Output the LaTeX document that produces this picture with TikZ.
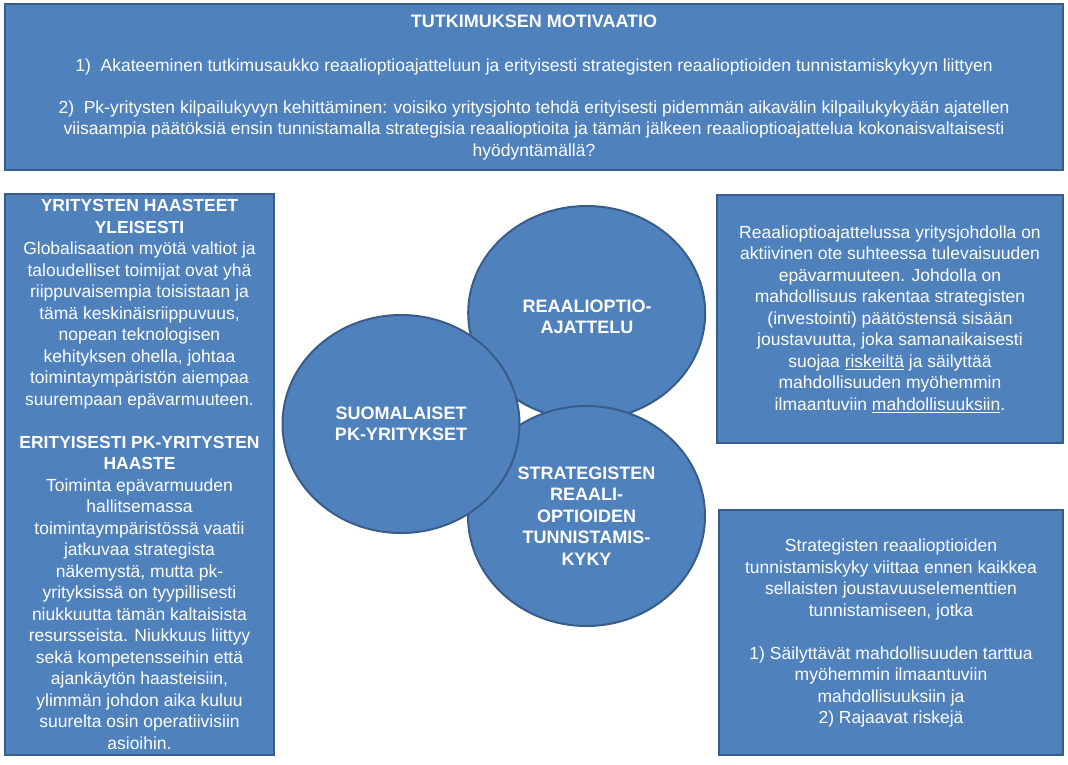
\documentclass[tikz,border=0pt]{standalone}
\usepackage{fontspec}
\setmainfont{Liberation Sans}
\usetikzlibrary{shapes.geometric}
\definecolor{boxfill}{HTML}{4F81BD}
\definecolor{boxline}{HTML}{385D8A}
\begin{document}
\begin{tikzpicture}[x=1pt,y=-1pt,
  panel/.style={draw=boxline, fill=boxfill, line width=2pt, inner sep=0pt},
  bubble/.style={ellipse, draw=boxline, fill=boxfill, line width=2pt, inner sep=0pt,
    minimum width=237pt, minimum height=218pt, text=white, align=center,
    font=\fontsize{18}{21.5}\selectfont\bfseries},
  txt/.style={text=white, align=center, inner sep=0pt, font=\fontsize{17.5}{21.5}\selectfont},
  btxt/.style={text=white, align=center, inner sep=0pt, font=\fontsize{18}{21.5}\selectfont\bfseries}]
\useasboundingbox (0,0) rectangle (1068,764);

% boxes
\node[panel, minimum width=1058pt, minimum height=166pt] (top) at (534,87) {};
\node[panel, minimum width=269pt, minimum height=561pt] (left) at (139.5,474.5) {};
\node[panel, minimum width=346pt, minimum height=248pt] (rtop) at (890,319) {};
\node[panel, minimum width=344pt, minimum height=245pt] (rbot) at (891,632.5) {};

% top box text
\node[btxt] (title) at (534,21.5) {TUTKIMUKSEN MOTIVAATIO};
\node[txt] (item1) at (534,66.5) {1)\ \ Akateeminen tutkimusaukko reaalioptioajatteluun ja erityisesti strategisten reaalioptioiden tunnistamiskykyyn liittyen};
\node[txt] (item2) at (534,130) {2)\ \ Pk-yritysten kilpailukyvyn kehittäminen: voisiko yritysjohto tehdä erityisesti pidemmän aikavälin kilpailukykyään ajatellen\\
viisaampia päätöksiä ensin tunnistamalla strategisia reaalioptioita ja tämän jälkeen reaalioptioajattelua kokonaisvaltaisesti\\
hyödyntämällä?};

% left box text
\node[txt] (lefttext) at (139.5,474.5) {\textbf{YRITYSTEN HAASTEET}\\
\textbf{YLEISESTI}\\
Globalisaation myötä valtiot ja\\
taloudelliset toimijat ovat yhä\\
riippuvaisempia toisistaan ja\\
tämä keskinäisriippuvuus,\\
nopean teknologisen\\
kehityksen ohella, johtaa\\
toimintaympäristön aiempaa\\
suurempaan epävarmuuteen.\\[21.5pt]
\textbf{ERITYISESTI PK-YRITYSTEN}\\
\textbf{HAASTE}\\
Toiminta epävarmuuden\\
hallitsemassa\\
toimintaympäristössä vaatii\\
jatkuvaa strategista\\
näkemystä, mutta pk-\\
yrityksissä on tyypillisesti\\
niukkuutta tämän kaltaisista\\
resursseista. Niukkuus liittyy\\
sekä kompetensseihin että\\
ajankäytön haasteisiin,\\
ylimmän johdon aika kuluu\\
suurelta osin operatiivisiin\\
asioihin.};

% right box texts
\node[txt] (rtoptext) at (890,319) {Reaalioptioajattelussa yritysjohdolla on\\
aktiivinen ote suhteessa tulevaisuuden\\
epävarmuuteen. Johdolla on\\
mahdollisuus rakentaa strategisten\\
(investointi) päätöstensä sisään\\
joustavuutta, joka samanaikaisesti\\
suojaa \underline{riskeiltä} ja säilyttää\\
mahdollisuuden myöhemmin\\
ilmaantuviin \underline{mahdollisuuksiin}.};

\node[txt] (rbottext) at (891,633.3) {Strategisten reaalioptioiden\\
tunnistamiskyky viittaa ennen kaikkea\\
sellaisten joustavuuselementtien\\
tunnistamiseen, jotka\\[21.5pt]
1) Säilyttävät mahdollisuuden tarttua\\
myöhemmin ilmaantuviin\\
mahdollisuuksiin ja\\
2) Rajaavat riskejä};

% circles
\node[bubble, minimum height=214pt] (reaali) at (586.7,313) {};
\node[txt, font=\fontsize{18}{21.5}\selectfont\bfseries] (reaalitext) at (587,317) {REAALIOPTIO-\\AJATTELU};
\node[bubble, minimum height=220pt] (strat) at (586.5,516) {STRATEGISTEN\\REAALI-\\OPTIOIDEN\\TUNNISTAMIS-\\KYKY};
\node[bubble] (suomi) at (401,424) {SUOMALAISET\\PK-YRITYKSET};
\end{tikzpicture}
\end{document}
